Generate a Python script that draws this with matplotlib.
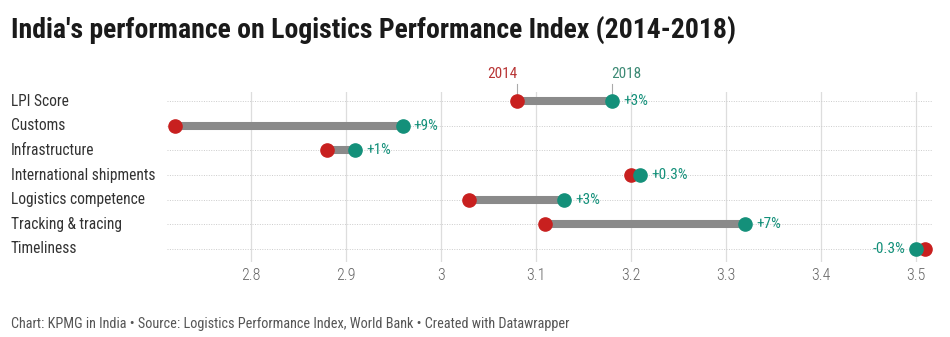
import numpy as np
import matplotlib
matplotlib.use("Agg")
import matplotlib.pyplot as plt
import matplotlib.transforms as mtransforms

# Logistics Performance Index, India
categories = ["LPI Score", "Customs", "Infrastructure", "International shipments",
              "Logistics competence", "Tracking & tracing", "Timeliness"]
score_2014 = [3.08, 2.72, 2.88, 3.20, 3.03, 3.11, 3.51]
score_2018 = [3.18, 2.96, 2.91, 3.21, 3.13, 3.32, 3.50]
change_labels = ["+3%", "+9%", "+1%", "+0.3%", "+3%", "+7%", "-0.3%"]
x_ticks = [2.8, 2.9, 3.0, 3.1, 3.2, 3.3, 3.4, 3.5]
x_tick_labels = ["2.8", "2.9", "3", "3.1", "3.2", "3.3", "3.4", "3.5"]

RED = "#c8201f"
GREEN = "#14907a"
GRAY = "#8a8a8a"

plt.rcParams["font.family"] = ["Roboto Condensed", "DejaVu Sans"]

fig = plt.figure(figsize=(9.5, 3.37), dpi=100)
ax = fig.add_axes([167 / 950, 1 - 262 / 337, (932 - 167) / 950, (262 - 92) / 337])

n = len(categories)
y = np.arange(n)

for i in range(n):
    ax.plot([score_2014[i], score_2018[i]], [y[i], y[i]], color=GRAY, lw=5.8,
            solid_capstyle="butt", zorder=2)
ax.plot(score_2014, y, "o", color=RED, ms=9.5, mec=RED, zorder=3)
ax.plot(score_2018, y, "o", color=GREEN, ms=9.5, mec=GREEN, zorder=4)

# change labels beside the 2018 dot
for i in range(n):
    up = score_2018[i] >= score_2014[i]
    ax.annotate(change_labels[i], (score_2018[i], y[i]),
                xytext=(8 if up else -7.5, 0), textcoords="offset points",
                ha="left" if up else "right", va="center",
                color=GREEN, fontsize=11)

# year labels above the first row
ax.annotate("2014", (score_2014[0], y[0]), xytext=(0.5, 19.5), textcoords="offset points",
            ha="right", va="center", color="#b83535", fontsize=11)
ax.annotate("2018", (score_2018[0], y[0]), xytext=(-0.5, 19.5), textcoords="offset points",
            ha="left", va="center", color="#3d8a75", fontsize=11)
for xv in (score_2014[0], score_2018[0]):
    ax.plot([xv, xv], [y[0] - 0.3, y[0] - 0.68], color="#aaaaaa", lw=0.8,
            clip_on=False, zorder=1)

ax.set_xlim(2.712, 3.517)
ax.set_ylim(n - 1 + 0.53, -0.37)

for xv in x_ticks:
    ax.axvline(xv, color="#dddddd", lw=0.9, zorder=0)
for yv in y:
    ax.axhline(yv, color="#cccccc", lw=0.7, ls=(0, (1, 1.5)), zorder=0)

ax.set_xticks(x_ticks)
ax.set_xticklabels(x_tick_labels, color="#666666", fontsize=11.5, fontweight="light")
ax.tick_params(axis="x", length=0, pad=4)
ax.set_yticks([])
for s in ax.spines.values():
    s.set_visible(False)

trans = mtransforms.blended_transform_factory(fig.transFigure, ax.transData)
for i, c in enumerate(categories):
    fig.text(11 / 950, y[i], c, transform=trans, ha="left", va="center",
             fontsize=11.2, color="#333333")

fig.text(11 / 950, 1 - 30 / 337, "India's performance on Logistics Performance Index (2014-2018)",
         ha="left", va="center", fontsize=20, fontweight="bold", color="#1a1a1a")
fig.text(11 / 950, 1 - 324 / 337,
         "Chart: KPMG in India \u2022 Source: Logistics Performance Index, World Bank \u2022 Created with Datawrapper",
         ha="left", va="center", fontsize=10.3, color="#555555")

fig.savefig("out.png", dpi=100, facecolor="white")
